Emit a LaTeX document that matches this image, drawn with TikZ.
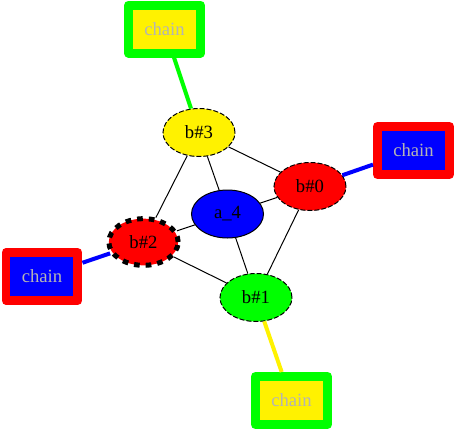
\documentclass[tikz,border=0pt]{standalone}
\usepackage{fontspec}
\setmainfont{Liberation Serif}
\usetikzlibrary{shapes.geometric}
\definecolor{chaingray}{RGB}{180,180,180}
\begin{document}
\begin{tikzpicture}[x=0.75pt,y=-0.75pt,font=\fontsize{14}{16}\selectfont,
 bnode/.style={ellipse,draw,line width=0.75pt,minimum width=54pt,minimum height=36pt,inner sep=0pt},
 dashnode/.style={bnode,dash pattern=on 3.75pt off 1.5pt},
 chainbox/.style={rectangle,line width=6.75pt,line join=round,minimum width=54pt,minimum height=36pt,inner sep=0pt,text=chaingray},
 link/.style={line width=0.75pt},
 chainlink/.style={line width=3pt}]
\useasboundingbox (0,0) rectangle (455,430);
%
\node[dashnode,fill=yellow] (b3) at (199,132.5) {b\#3};
\node[dashnode,fill=red] (b0) at (310,186.5) {b\#0};
\node[bnode,fill=blue] (a4) at (227.5,214) {a\_4};
\node[bnode,fill=red,line width=3.75pt,dash pattern=on 4.25pt off 4.5pt,minimum width=52pt,minimum height=35pt] (b2) at (143.5,242) {b\#2};
\node[dashnode,fill=green] (b1) at (256,297.5) {b\#1};
%
\node[chainbox,draw=green,fill=yellow] (c3) at (164.5,29) {chain};
\node[chainbox,draw=red,fill=blue] (c0) at (413.5,150.5) {chain};
\node[chainbox,draw=red,fill=blue] (c2) at (42,276.5) {chain};
\node[chainbox,draw=green,fill=yellow] (c1) at (291.5,400.5) {chain};
%
\foreach \A/\B in {b3/b2,b3/a4,b3/b0,b0/a4,b0/b1,a4/b2,a4/b1,b2/b1}
 \draw[link] (\A) -- (\B);
%
\draw[chainlink,green] (c3) -- (b3);
\draw[chainlink,blue] (b0) -- (c0);
\draw[chainlink,blue] (c2) -- (b2);
\draw[chainlink,yellow] (b1) -- (c1);
\end{tikzpicture}
\end{document}
